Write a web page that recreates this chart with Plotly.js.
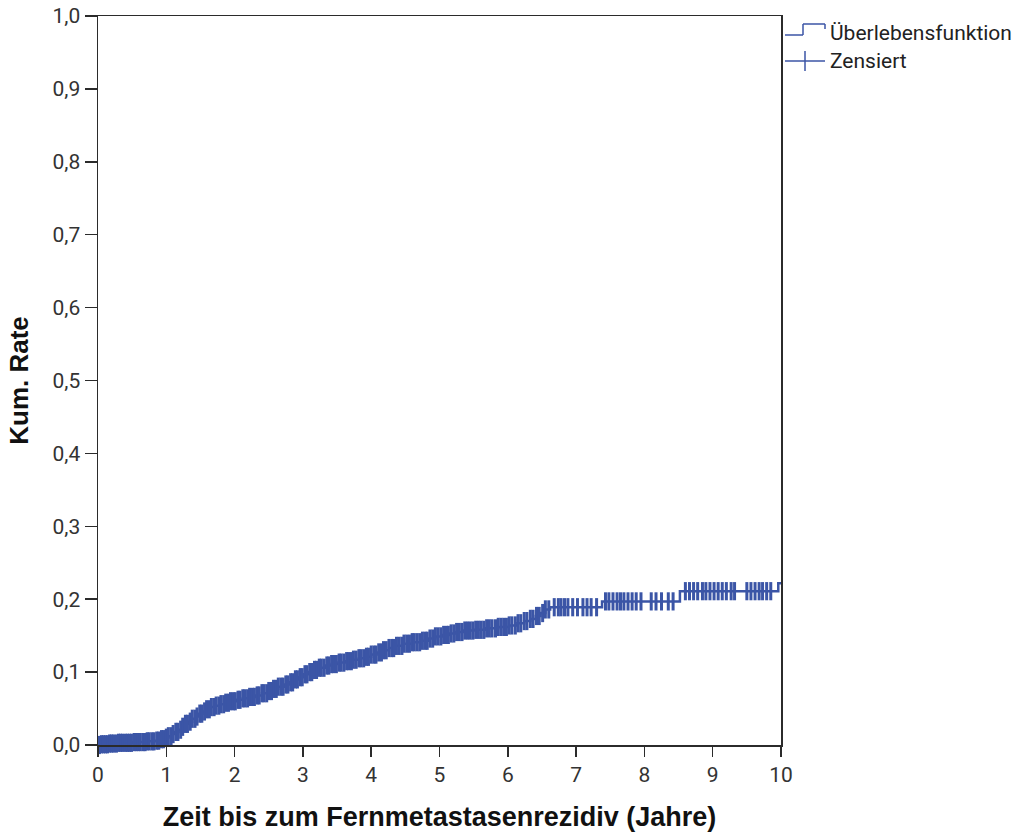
<!DOCTYPE html>
<html>
<head>
<meta charset="utf-8">
<script src="https://cdn.plot.ly/plotly-3.0.1.min.js"></script>
<style>
  html, body { margin: 0; padding: 0; background: #fff; }
  #chart { width: 1021px; height: 839px; }
</style>
</head>
<body>
<div id="chart"></div>
<script>
// Kaplan-Meier cumulative incidence of distant metastatic recurrence
// Step points: time in years and cumulative rate after the step
var eventTimes = [0.05, 0.15, 0.30, 0.50, 0.70, 0.85, 0.92, 0.98, 1.03, 1.08, 1.13, 1.18, 1.23, 1.28, 1.33,
  1.38, 1.43, 1.48, 1.53, 1.58, 1.64, 1.71, 1.78, 1.86, 1.94, 2.02, 2.12, 2.22, 2.31, 2.40, 2.48, 2.56,
  2.64, 2.72, 2.80, 2.87, 2.94, 3.01, 3.08, 3.16, 3.24, 3.33, 3.42, 3.52, 3.62, 3.72, 3.82, 3.92, 4.00,
  4.08, 4.17, 4.26, 4.36, 4.47, 4.60, 4.72, 4.84, 4.94, 5.04, 5.14, 5.24, 5.36, 5.50, 5.68, 5.86, 6.02,
  6.14, 6.24, 6.33, 6.41, 6.48, 6.55, 6.62, 7.38, 8.52, 9.96];
var cumRate = [0.001, 0.002, 0.003, 0.004, 0.005, 0.006, 0.008, 0.010, 0.012, 0.015, 0.018, 0.021, 0.025, 0.029, 0.032,
  0.036, 0.039, 0.043, 0.046, 0.049, 0.052, 0.054, 0.056, 0.058, 0.060, 0.062, 0.064, 0.066, 0.068, 0.071, 0.074, 0.077,
  0.080, 0.083, 0.086, 0.090, 0.093, 0.097, 0.100, 0.103, 0.106, 0.109, 0.111, 0.113, 0.115, 0.117, 0.119, 0.121, 0.124,
  0.127, 0.130, 0.133, 0.136, 0.139, 0.141, 0.143, 0.146, 0.149, 0.151, 0.153, 0.155, 0.157, 0.158, 0.160, 0.162, 0.164,
  0.167, 0.170, 0.173, 0.177, 0.181, 0.186, 0.189, 0.197, 0.211, 0.222];

// Censored observations (years)
var censorTimes = [0.02, 0.05, 0.08, 0.11, 0.14, 0.17, 0.20, 0.23, 0.27, 0.30, 0.33, 0.36, 0.40, 0.43, 0.46, 0.49,
  0.53, 0.56, 0.59, 0.62, 0.66, 0.69, 0.72, 0.75, 0.79, 0.82, 0.86, 0.89, 0.93, 0.96,
  1.00, 1.03, 1.07, 1.10, 1.14, 1.17, 1.21, 1.24, 1.28, 1.31, 1.35, 1.38, 1.42, 1.45, 1.49, 1.52, 1.56, 1.59,
  1.63, 1.66, 1.70, 1.73, 1.77, 1.80, 1.84, 1.87, 1.91, 1.94, 1.98,
  2.01, 2.05, 2.08, 2.12, 2.15, 2.19, 2.22, 2.26, 2.29, 2.33, 2.36, 2.40, 2.43, 2.47, 2.50, 2.54, 2.57, 2.61,
  2.64, 2.68, 2.71, 2.75, 2.78, 2.82, 2.85, 2.89, 2.92, 2.96, 2.99,
  3.03, 3.06, 3.10, 3.13, 3.17, 3.20, 3.24, 3.27, 3.31, 3.35, 3.38, 3.42, 3.45, 3.49, 3.53, 3.56, 3.60, 3.64,
  3.67, 3.71, 3.74, 3.78, 3.82, 3.85, 3.89, 3.93, 3.96,
  4.00, 4.04, 4.07, 4.11, 4.15, 4.18, 4.22, 4.26, 4.30, 4.33, 4.37, 4.41, 4.45, 4.48, 4.52, 4.56, 4.60, 4.63,
  4.67, 4.71, 4.75, 4.79, 4.82, 4.86, 4.90, 4.94, 4.98,
  5.02, 5.06, 5.10, 5.13, 5.17, 5.21, 5.25, 5.29, 5.33, 5.37, 5.41, 5.45, 5.49, 5.53, 5.57, 5.61, 5.65, 5.69,
  5.73, 5.77, 5.82, 5.86, 5.90, 5.94, 5.98,
  6.02, 6.06, 6.11, 6.15, 6.19, 6.24, 6.28, 6.33, 6.37, 6.42, 6.46, 6.51, 6.55, 6.60,
  6.68, 6.74, 6.78, 6.83, 6.88, 6.95, 7.02, 7.10, 7.16, 7.22, 7.30,
  7.43, 7.48, 7.54, 7.60, 7.65, 7.70, 7.76, 7.82, 7.88, 7.95, 8.10, 8.17, 8.25, 8.35, 8.42,
  8.60, 8.66, 8.72, 8.78, 8.85, 8.90, 8.96, 9.02, 9.08, 9.14, 9.20, 9.27, 9.32, 9.50, 9.56, 9.62, 9.68,
  9.73, 9.79, 9.85];

var maxTime = 10;
var curveColor = '#3b55a6';
var axisColor = '#2b2b2b';
var tickFont = { family: 'Roboto, Liberation Sans, sans-serif', size: 21, color: '#333' };
var xTitleFont = { family: 'Liberation Sans, Arial, sans-serif', size: 27, color: '#111', weight: 'bold' };
var yTitleFont = { family: 'Liberation Sans, Arial, sans-serif', size: 26, color: '#111', weight: 'bold' };

// Build the step curve from the event table
var stepX = [0].concat(eventTimes, [maxTime]);
var stepY = [0].concat(cumRate, [cumRate[cumRate.length - 1]]);

// Cumulative rate in effect at time t
function rateAt(t) {
  var r = 0;
  for (var i = 0; i < eventTimes.length; i++) {
    if (eventTimes[i] <= t) r = cumRate[i]; else break;
  }
  return r;
}
var censorY = censorTimes.map(rateAt);

var traces = [
  {
    x: stepX, y: stepY, type: 'scatter', mode: 'lines',
    line: { shape: 'hv', color: curveColor, width: 2.5 },
    cliponaxis: false, showlegend: false, hoverinfo: 'skip'
  },
  {
    x: censorTimes, y: censorY, type: 'scatter', mode: 'markers',
    marker: { symbol: 'line-ns', size: 13, color: curveColor, line: { color: curveColor, width: 3 } },
    cliponaxis: false, showlegend: false, hoverinfo: 'skip'
  }
];

var W = 1021, H = 839, mL = 98, mR = 240, mT = 16, mB = 94;
var pw = W - mL - mR, ph = H - mT - mB;
function px(x) { return (x - mL) / pw; }
function py(y) { return 1 - (y - mT) / ph; }

// Legend drawn next to the plot frame: step glyph and censor cross
var glyphLine = { color: curveColor, width: 1.5 };
var shapes = [
  { type: 'line', xref: 'paper', yref: 'paper', x0: px(785), x1: px(803), y0: py(35), y1: py(35), line: glyphLine },
  { type: 'line', xref: 'paper', yref: 'paper', x0: px(803), x1: px(803), y0: py(35), y1: py(24), line: glyphLine },
  { type: 'line', xref: 'paper', yref: 'paper', x0: px(803), x1: px(825), y0: py(24), y1: py(24), line: glyphLine },
  { type: 'line', xref: 'paper', yref: 'paper', x0: px(825), x1: px(825), y0: py(24), y1: py(29), line: glyphLine },
  { type: 'line', xref: 'paper', yref: 'paper', x0: px(785), x1: px(825), y0: py(61), y1: py(61), line: glyphLine },
  { type: 'line', xref: 'paper', yref: 'paper', x0: px(805), x1: px(805), y0: py(51), y1: py(71), line: glyphLine }
];

var legendFont = { family: 'Roboto, Liberation Sans, sans-serif', size: 21, color: '#222' };
var annotations = [
  { xref: 'paper', yref: 'paper', x: px(828), y: py(33), text: 'Überlebensfunktion', showarrow: false, xanchor: 'left', yanchor: 'middle', font: legendFont },
  { xref: 'paper', yref: 'paper', x: px(828), y: py(61), text: 'Zensiert', showarrow: false, xanchor: 'left', yanchor: 'middle', font: legendFont }
];

var layout = {
  width: W, height: H,
  margin: { l: mL, r: mR, t: mT, b: mB },
  paper_bgcolor: '#fff', plot_bgcolor: '#fff',
  separators: ', ',
  showlegend: false,
  xaxis: {
    range: [0, maxTime], dtick: 1, tick0: 0,
    showgrid: false, zeroline: false,
    showline: true, linecolor: axisColor, linewidth: 1.5, mirror: true,
    ticks: 'outside', ticklen: 10, tickwidth: 1.5, tickcolor: axisColor,
    tickfont: tickFont,
    title: { text: 'Zeit bis zum Fernmetastasenrezidiv (Jahre)', font: xTitleFont, standoff: 21 }
  },
  yaxis: {
    range: [0, 1], dtick: 0.1, tick0: 0, tickformat: '.1f',
    showgrid: false, zeroline: false,
    showline: true, linecolor: axisColor, linewidth: 1.5, mirror: true,
    ticks: 'outside', ticklen: 12, tickwidth: 1.5, tickcolor: axisColor,
    tickfont: tickFont,
    title: { text: 'Kum. Rate', font: yTitleFont, standoff: 16 }
  },
  shapes: shapes,
  annotations: annotations
};

Plotly.newPlot('chart', traces, layout, { displayModeBar: false, staticPlot: true });
</script>
</body>
</html>
